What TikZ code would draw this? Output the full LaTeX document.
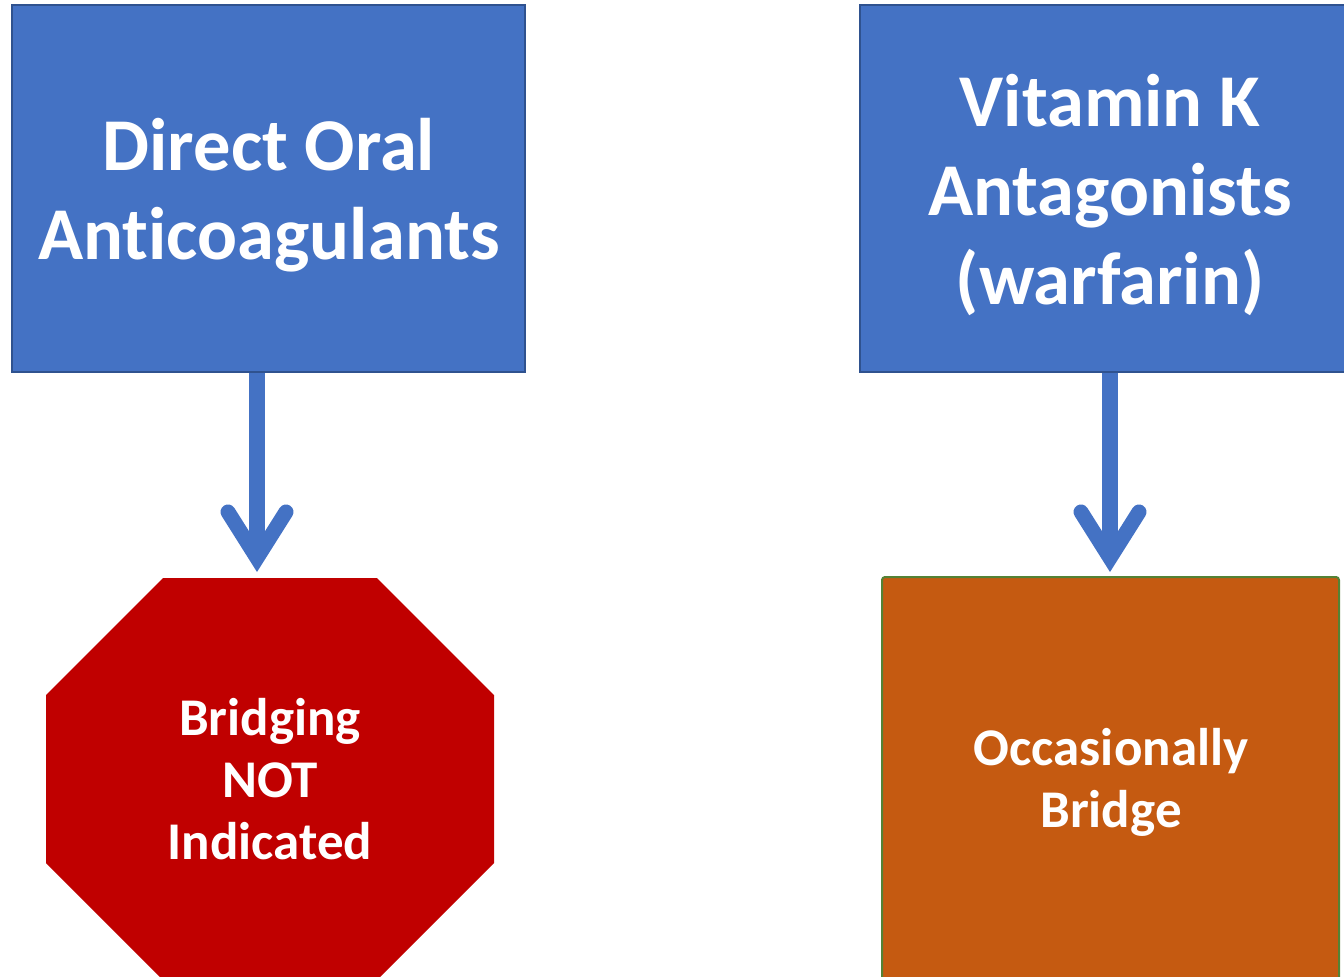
\documentclass[tikz,border=0pt]{standalone}
\usepackage{fontspec}
\setmainfont{Carlito}[Ligatures=CommonOff]
\usetikzlibrary{arrows.meta}
\definecolor{bfill}{HTML}{4472C4}
\definecolor{bline}{HTML}{2F528F}
\definecolor{stopred}{HTML}{C00000}
\definecolor{ofill}{HTML}{C55A11}
\definecolor{oline}{HTML}{548235}
\tikzset{
  bigtext/.style={font=\fontsize{74.5}{89}\selectfont\bfseries, text=white, align=center, inner sep=0pt},
  smalltext/.style={font=\fontsize{53}{62}\selectfont\bfseries, text=white, align=center, inner sep=0pt},
  bluebox/.style={draw=bline, fill=bfill, line width=2pt, inner sep=0pt, minimum height=367pt},
  orangebox/.style={draw=oline, fill=ofill, line width=2pt, inner sep=0pt, rounded corners=3pt},
  flowarrow/.style={draw=bfill, line width=16pt,
    -{Straight Barb[length=46pt,width=58pt,line width=15pt,line cap=round,line join=miter]}}
}
\begin{document}
\begin{tikzpicture}[x=1pt,y=-1pt]
\useasboundingbox (0,0) rectangle (1344,977);
\clip (0,0) rectangle (1344,977);
\node[bluebox, minimum width=513pt] (doac) at (268.5,188.5) {};
\node[bigtext] (doact) at (269,195) {Direct Oral\\Anticoagulants};
\node[bluebox, minimum width=500pt] (vka) at (1110,188.5) {};
\node[bigtext] (vkat) at (1110,195) {Vitamin K\\Antagonists\\(warfarin)};
\fill[stopred] (163,578) -- (377,578) -- (494,695) -- (494,863) -- (377,980) -- (163,980) -- (46,863) -- (46,695) -- cycle;
\node[smalltext] (stop) at (270,779) {Bridging\\NOT\\Indicated};
\node[orangebox, minimum width=457pt, minimum height=404pt] (occ) at (1110.5,779) {};
\node[smalltext] (occt) at (1111,782) {Occasionally\\Bridge};
\coordinate (a1s) at (257,373);
\coordinate (a1e) at (257,572);
\coordinate (a2s) at (1110,373);
\coordinate (a2e) at (1110,572);
\draw[flowarrow] (a1s) -- (a1e);
\draw[flowarrow] (a2s) -- (a2e);
\end{tikzpicture}
\end{document}
